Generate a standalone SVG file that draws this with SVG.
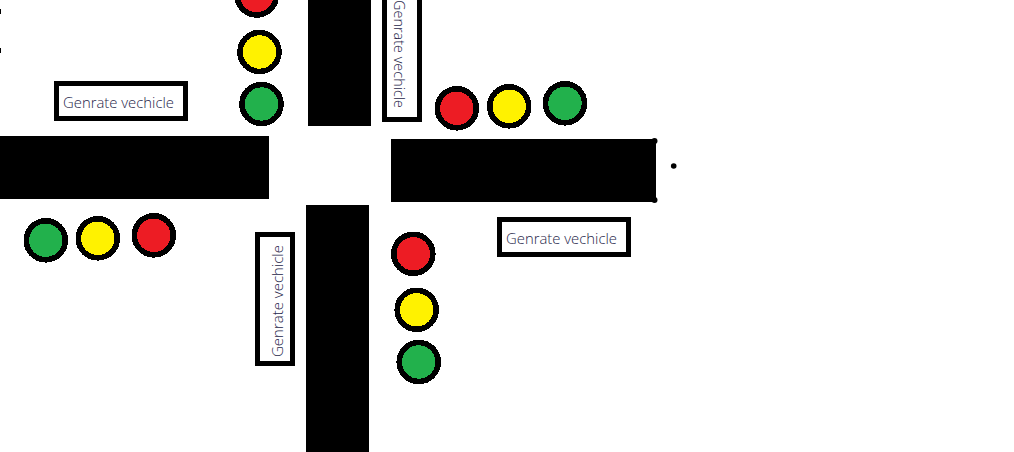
<svg xmlns="http://www.w3.org/2000/svg" width="1014" height="452" viewBox="0 0 1014 452">
<style>
.road{fill:#000}
.box{fill:#fff;stroke:#000;stroke-width:5}
.lamp{stroke:#000;stroke-width:5.600;shape-rendering:crispEdges}
.r{fill:#ed1c24}.y{fill:#fff200}.g{fill:#22b14c}
.t{font-family:"Open Sans","Liberation Sans",sans-serif;font-weight:300;font-size:15px;fill:#26264a}
</style>
<rect width="1014" height="452" fill="#fff"/>
<g id="roads">
<rect class="road" x="0" y="136" width="269" height="63"/>
<rect class="road" x="308" y="0" width="63" height="126"/>
<rect class="road" x="391" y="139" width="265" height="63"/>
<rect class="road" x="306" y="205" width="63" height="247"/>
<circle class="road" cx="654.500" cy="141" r="3"/>
<circle class="road" cx="654.500" cy="200" r="3"/>
<circle class="road" cx="673.700" cy="166" r="2.800"/>
<rect class="road" x="0" y="9" width="1" height="5"/>
<rect class="road" x="0" y="48" width="1" height="5"/>
</g>
<g id="gen-left"><rect class="box" x="56.500" y="83.500" width="129" height="35"/><text class="t" x="63" y="108" textLength="111" lengthAdjust="spacingAndGlyphs">Genrate vechicle</text></g>
<g id="gen-top"><rect class="box" x="384.500" y="-20" width="35" height="139.500"/><text class="t" transform="translate(394 0) rotate(90)" textLength="108" lengthAdjust="spacingAndGlyphs">Genrate vechicle</text></g>
<g id="gen-bottom"><rect class="box" x="257.500" y="234.500" width="35" height="129"/><text class="t" transform="translate(283 357) rotate(-90)" textLength="112" lengthAdjust="spacingAndGlyphs">Genrate vechicle</text></g>
<g id="gen-right"><rect class="box" x="499.500" y="219.500" width="129" height="35"/><text class="t" x="506" y="244" textLength="111" lengthAdjust="spacingAndGlyphs">Genrate vechicle</text></g>
<g id="light-top"><circle class="lamp r" cx="256.700" cy="-4.500" r="19.500"/><circle class="lamp y" cx="259.500" cy="52" r="19.500"/><circle class="lamp g" cx="261.500" cy="104" r="19.500"/></g>
<g id="light-right"><circle class="lamp r" cx="456.800" cy="108.300" r="19.500"/><circle class="lamp y" cx="509.200" cy="106.300" r="19.500"/><circle class="lamp g" cx="565" cy="103.300" r="19.500"/></g>
<g id="light-bottom"><circle class="lamp r" cx="413.300" cy="253.800" r="19.500"/><circle class="lamp y" cx="416.700" cy="309.800" r="19.500"/><circle class="lamp g" cx="418.700" cy="362" r="19.500"/></g>
<g id="light-left"><circle class="lamp g" cx="45.800" cy="240.300" r="19.500"/><circle class="lamp y" cx="97.800" cy="238.300" r="19.500"/><circle class="lamp r" cx="153.800" cy="235.300" r="19.500"/></g>
</svg>
